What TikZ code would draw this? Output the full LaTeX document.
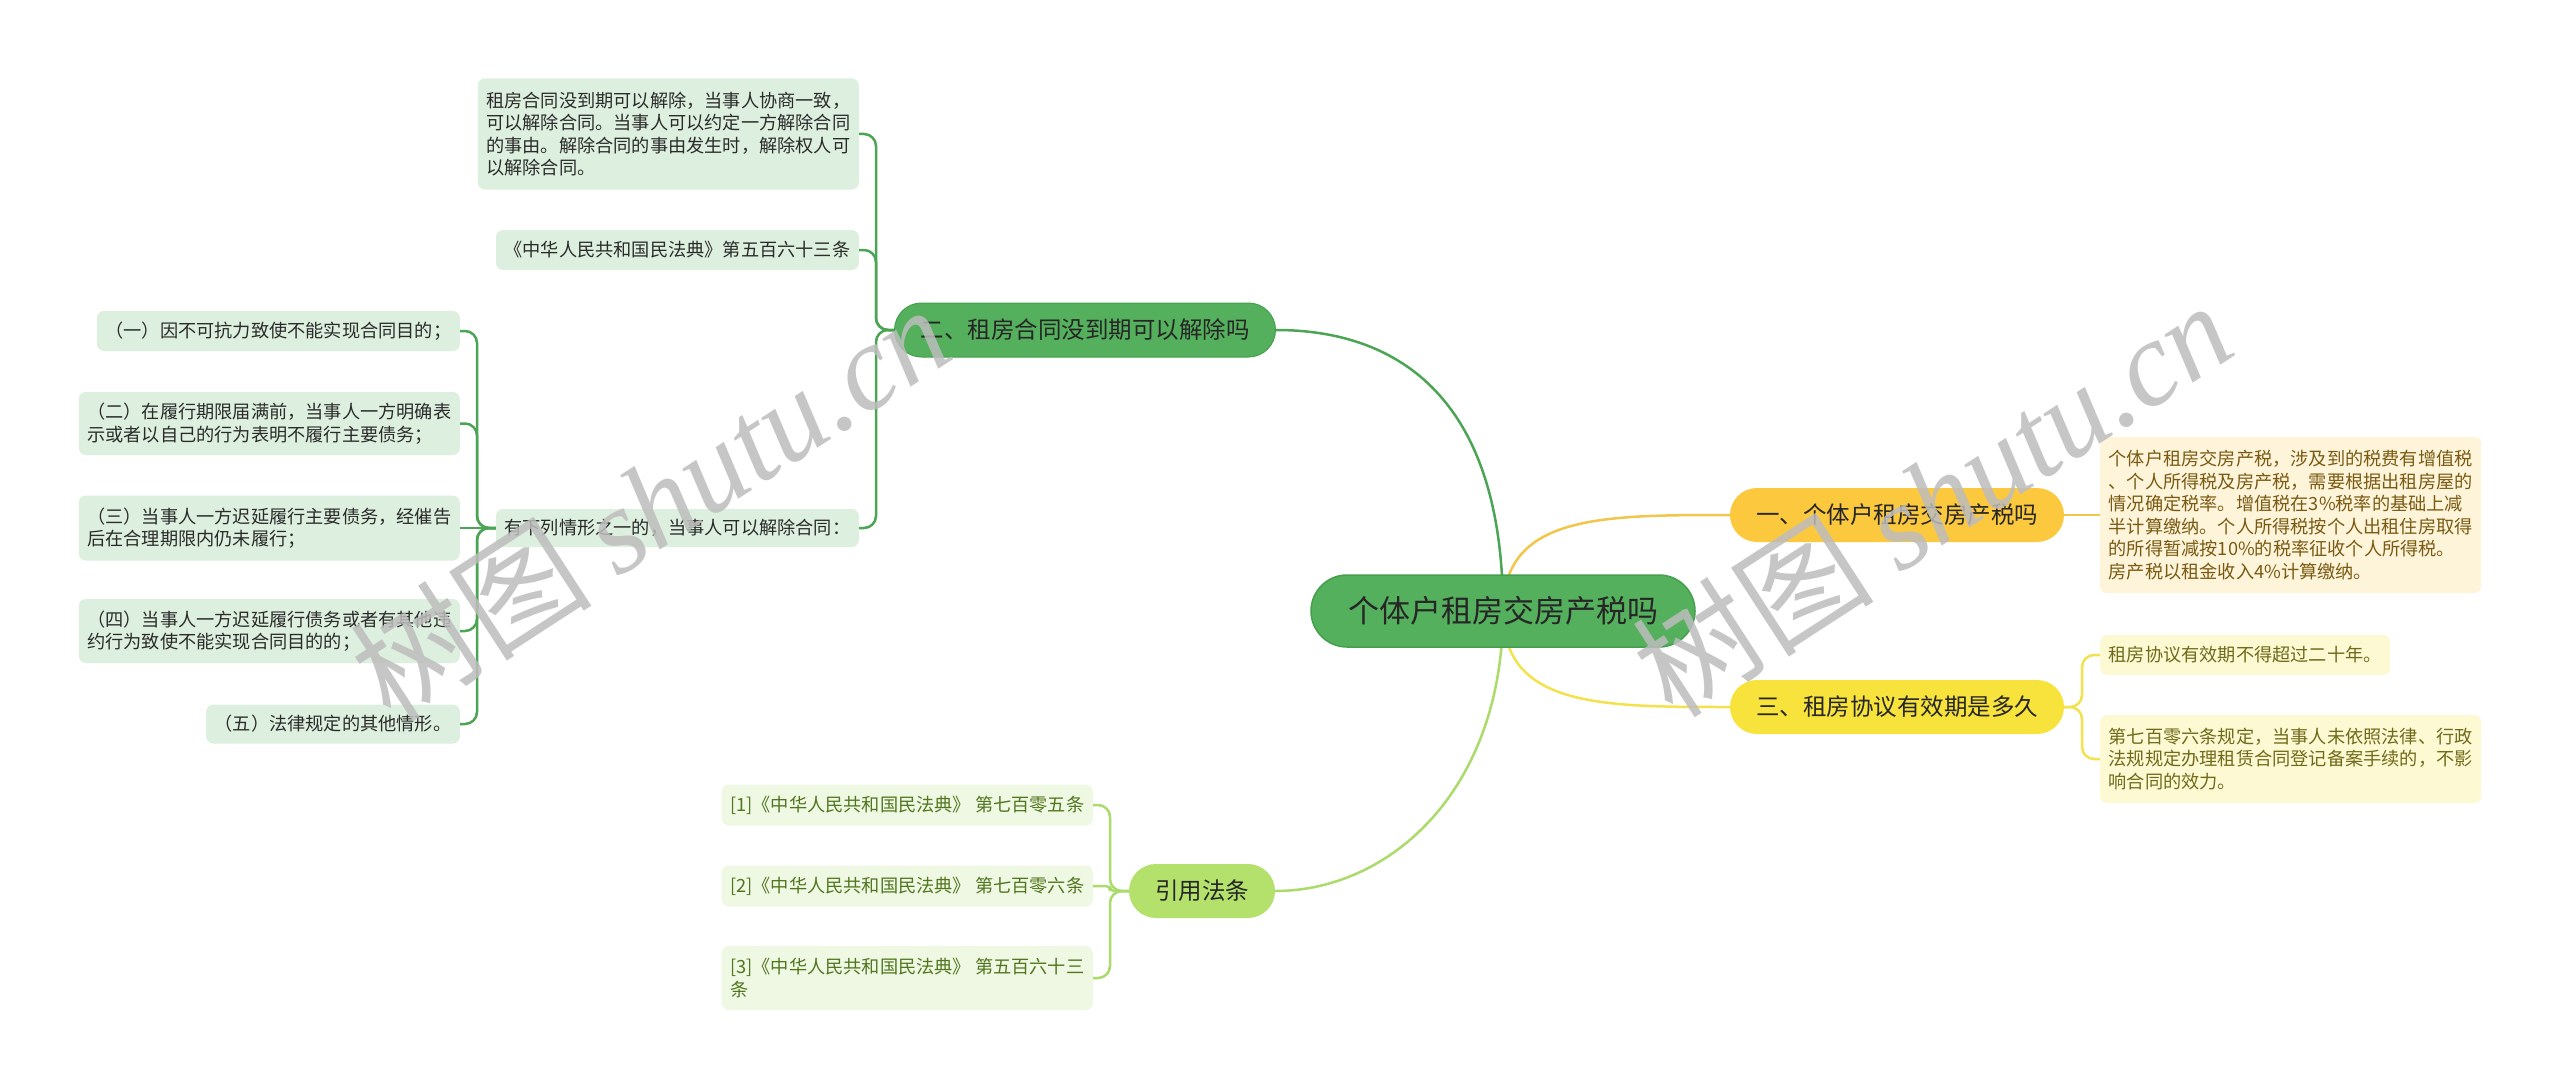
\documentclass[tikz,border=0pt]{standalone}
\usepackage{fontspec}
\setmainfont{Noto Sans CJK SC}
\newfontfamily\wmserif{Liberation Serif}
\definecolor{rootfill}{HTML}{55B05D}
\definecolor{rootdraw}{HTML}{44A04D}
\definecolor{gline}{HTML}{4CA554}
\definecolor{gleaf}{HTML}{DDEFDE}
\definecolor{gtext}{HTML}{2B2B2B}
\definecolor{ofill}{HTML}{FCC93E}
\definecolor{oline}{HTML}{F2C64A}
\definecolor{oleaf}{HTML}{FDF4DA}
\definecolor{otext}{HTML}{7A5A12}
\definecolor{yfill}{HTML}{F7E33B}
\definecolor{yline}{HTML}{F3E24E}
\definecolor{yleaf}{HTML}{FDF9D3}
\definecolor{ytext}{HTML}{706A1A}
\definecolor{lfill}{HTML}{B3E16C}
\definecolor{lline}{HTML}{ABDB6A}
\definecolor{lleaf}{HTML}{EFF8E3}
\definecolor{ltext}{HTML}{52761F}
\definecolor{wmgray}{HTML}{BDBDBD}
\pgfdeclarelayer{bg}
\pgfdeclarelayer{lines}
\pgfsetlayers{bg,lines,main}
\begin{document}
\begin{tikzpicture}[x=1pt,y=-1pt,
  rootbox/.style={rectangle, rounded corners=36pt, fill=rootfill, draw=rootdraw, line width=1.5pt,
    minimum height=72pt, inner xsep=37pt, inner ysep=0pt, font=\fontsize{31}{36}\selectfont, text=black!85},
  branch/.style={rectangle, rounded corners=27pt, minimum height=54pt, inner xsep=26pt, inner ysep=0pt,
    font=\fontsize{23.5}{28}\selectfont, text=black!85},
  leaf/.style={rectangle, rounded corners=7pt, inner xsep=8.5pt, inner ysep=3pt, align=left,
    font=\fontsize{18.2}{22.6}\selectfont},
  gleafbox/.style={leaf, fill=gleaf, text=gtext, anchor=east},
  oleafbox/.style={leaf, fill=oleaf, text=otext, anchor=west},
  yleafbox/.style={leaf, fill=yleaf, text=ytext, anchor=west},
  lleafbox/.style={leaf, fill=lleaf, text=ltext, anchor=east},
  conn/.style={line width=2.5pt, line cap=round, line join=round},
  wm/.style={text=wmgray, opacity=0.85, font=\fontsize{121}{125}\selectfont, rotate=33, inner sep=0pt}
]
\begin{pgfonlayer}{bg}
\fill[white] (0,0) rectangle (2560,1089);
\end{pgfonlayer}
\useasboundingbox (0,0) rectangle (2560,1089);

% root and branches
\node[rootbox] (root) at (1503,611) {个体户租房交房产税吗};
\node[branch, fill=rootfill, draw=rootdraw, line width=1pt] (b2) at (1085,330) {二、租房合同没到期可以解除吗};
\node[branch, fill=ofill] (b1) at (1897,515) {一、个体户租房交房产税吗};
\node[branch, fill=yfill] (b3) at (1897,707) {三、租房协议有效期是多久};
\node[branch, fill=lfill] (b4) at (1202,891) {引用法条};

% leaves of 二
\node[gleafbox, minimum height=111pt] (L1) at (859,134) {租房合同没到期可以解除，当事人协商一致，\\可以解除合同。当事人可以约定一方解除合同\\的事由。解除合同的事由发生时，解除权人可\\以解除合同。};
\node[gleafbox, minimum height=40pt] (L2) at (859,250) {《中华人民共和国民法典》第五百六十三条};
\node[gleafbox, minimum height=38pt] (L3) at (859,528) {有下列情形之一的，当事人可以解除合同：};

\node[gleafbox, minimum height=40pt] (S1) at (460,331) {（一）因不可抗力致使不能实现合同目的；};
\node[gleafbox, minimum height=63pt] (S2) at (460,423.5) {（二）在履行期限届满前，当事人一方明确表\\示或者以自己的行为表明不履行主要债务；};
\node[gleafbox, minimum height=65pt] (S3) at (460,528) {（三）当事人一方迟延履行主要债务，经催告\\后在合理期限内仍未履行；};
\node[gleafbox, minimum height=64pt] (S4) at (460,631) {（四）当事人一方迟延履行债务或者有其他违\\约行为致使不能实现合同目的的；};
\node[gleafbox, minimum height=39pt] (S5) at (460,724) {（五）法律规定的其他情形。};

% right leaves
\node[oleafbox, minimum height=156pt] (R1) at (2100,515) {个体户租房交房产税，涉及到的税费有增值税\\、个人所得税及房产税，需要根据出租房屋的\\情况确定税率。增值税在3\%税率的基础上减\\半计算缴纳。个人所得税按个人出租住房取得\\的所得暂减按10\%的税率征收个人所得税。\\房产税以租金收入4\%计算缴纳。};
\node[yleafbox, minimum height=40pt] (R2) at (2100,655) {租房协议有效期不得超过二十年。};
\node[yleafbox, minimum height=88pt] (R3) at (2100,759) {第七百零六条规定，当事人未依照法律、行政\\法规规定办理租赁合同登记备案手续的，不影\\响合同的效力。};

% citation leaves
\node[lleafbox, minimum height=41pt] (C1) at (1093,805) {[1]《中华人民共和国民法典》 第七百零五条};
\node[lleafbox, minimum height=41pt] (C2) at (1093,886) {[2]《中华人民共和国民法典》 第七百零六条};
\node[lleafbox, minimum height=64pt] (C3) at (1093,978) {[3]《中华人民共和国民法典》 第五百六十三\\条};

% connectors
\begin{pgfonlayer}{lines}
\draw[conn, gline] (root.center) .. controls (1503,400) and (1400,330) .. (b2.east);
\draw[conn, oline] (root.center) .. controls (1503,515) and (1600,515) .. (b1.west);
\draw[conn, yline] (root.center) .. controls (1503,707) and (1600,707) .. (b3.west);
\draw[conn, lline] (root.center) .. controls (1503,790) and (1390,891) .. (b4.east);

\draw[conn, gline, rounded corners=12pt] (b2.west) -- (876,330) |- (L1.east);
\draw[conn, gline, rounded corners=12pt] (b2.west) -- (876,330) |- (L2.east);
\draw[conn, gline, rounded corners=12pt] (b2.west) -- (876,330) |- (L3.east);

\draw[conn, gline, rounded corners=12pt] (L3.west) -- (477,528) |- (S1.east);
\draw[conn, gline, rounded corners=12pt] (L3.west) -- (477,528) |- (S2.east);
\draw[conn, gline] (L3.west) -- (S3.east);
\draw[conn, gline, rounded corners=12pt] (L3.west) -- (477,528) |- (S4.east);
\draw[conn, gline, rounded corners=12pt] (L3.west) -- (477,528) |- (S5.east);

\draw[conn, oline] (b1.east) -- (R1.west);
\draw[conn, yline, rounded corners=12pt] (b3.east) -- (2082,707) |- (R2.west);
\draw[conn, yline, rounded corners=12pt] (b3.east) -- (2082,707) |- (R3.west);

\draw[conn, lline, rounded corners=12pt] (b4.west) -- (1110,891) |- (C1.east);
\draw[conn, lline, rounded corners=4pt] (b4.west) -- (1110,891) |- (C2.east);
\draw[conn, lline, rounded corners=12pt] (b4.west) -- (1110,891) |- (C3.east);
\end{pgfonlayer}

% watermarks
\node[wm] (wm1) at (650,502) {树图 {\wmserif\itshape shutu.cn}};
\node[wm] (wm2) at (1932,498) {树图 {\wmserif\itshape shutu.cn}};
\end{tikzpicture}
\end{document}
